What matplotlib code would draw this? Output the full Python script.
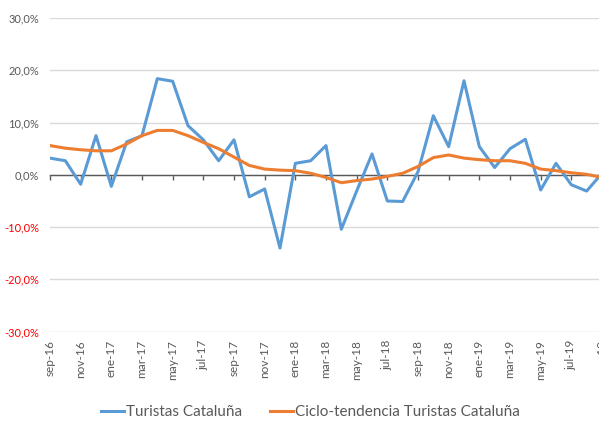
import matplotlib
matplotlib.use('Agg')
import matplotlib.pyplot as plt

plt.rcParams['font.family'] = ['Lato', 'DejaVu Sans']

# meses sep-16 .. sep-19
meses = ['sep-16', 'oct-16', 'nov-16', 'dic-16', 'ene-17', 'feb-17', 'mar-17', 'abr-17',
         'may-17', 'jun-17', 'jul-17', 'ago-17', 'sep-17', 'oct-17', 'nov-17', 'dic-17',
         'ene-18', 'feb-18', 'mar-18', 'abr-18', 'may-18', 'jun-18', 'jul-18', 'ago-18',
         'sep-18', 'oct-18', 'nov-18', 'dic-18', 'ene-19', 'feb-19', 'mar-19', 'abr-19',
         'may-19', 'jun-19', 'jul-19', 'ago-19', 'sep-19']

turistas = [3.2, 2.7, -1.8, 7.5, -2.2, 6.3, 7.5, 18.4, 17.9, 9.4, 6.7, 2.7, 6.7, -4.2,
            -2.7, -14.0, 2.2, 2.7, 5.6, -10.4, -3.1, 4.0, -5.0, -5.1, 0.6, 11.3, 5.4,
            18.0, 5.4, 1.4, 5.0, 6.8, -2.9, 2.2, -1.9, -3.1, 0.3]

tendencia = [5.6, 5.1, 4.8, 4.6, 4.6, 5.9, 7.5, 8.5, 8.5, 7.5, 6.2, 5.0, 3.4, 1.8,
             1.1, 0.9, 0.8, 0.3, -0.5, -1.5, -1.1, -0.8, -0.3, 0.3, 1.6, 3.3, 3.8,
             3.2, 2.9, 2.7, 2.7, 2.2, 1.1, 0.8, 0.4, 0.1, -0.5]

yticks = [-30, -20, -10, 0, 10, 20, 30]
ylabels = ['-30,0%', '-20,0%', '-10,0%', '0,0%', '10,0%', '20,0%', '30,0%']

gris = '#595959'

fig = plt.figure(figsize=(5.99, 4.24), dpi=100)
ax = fig.add_axes([50 / 599, 1 - 331.7 / 424, 552 / 599, (331.7 - 18) / 424])

x = list(range(len(meses)))
ax.plot(x, turistas, color='#5B9BD5', lw=2.2, label='Turistas Cataluña', zorder=3)
ax.plot(x, tendencia, color='#ED7D31', lw=2.2, label='Ciclo-tendencia Turistas Cataluña', zorder=4)

ax.set_xlim(0, len(meses) - 1)
ax.set_ylim(-30, 30)
ax.set_yticks(yticks)
ax.set_yticklabels(ylabels)
for lab, v in zip(ax.get_yticklabels(), yticks):
    lab.set_color('#FF0000' if v < 0 else gris)
ax.tick_params(axis='y', length=0, pad=8, labelsize=8)
ax.grid(axis='y', color='#D9D9D9', lw=1)
ax.set_axisbelow(True)

for s in ['top', 'right', 'left']:
    ax.spines[s].set_visible(False)

# eje horizontal en el 0 con marcas hacia abajo
ax.spines['bottom'].set_position(('data', 0))
ax.spines['bottom'].set_color(gris)
ax.spines['bottom'].set_linewidth(1)
ax.spines['bottom'].set_zorder(2.5)
ax.set_xticks(x[::2])
ax.tick_params(axis='x', length=3.5, width=1, color=gris, direction='out', labelbottom=False)

# etiquetas de meses abajo del todo
sec = ax.secondary_xaxis(0.0)
sec.set_xticks(x[::2])
sec.set_xticklabels(meses[::2], rotation=90, color=gris, fontsize=8.5)
sec.tick_params(axis='x', length=0, pad=6)
for s in sec.spines.values():
    s.set_visible(False)

fig.legend(loc='center', bbox_to_anchor=(0.518, 0.028), ncol=2, frameon=False,
           fontsize=11, labelcolor=gris, handlelength=1.5, handletextpad=0.15,
           columnspacing=1.8)

plt.savefig('out.png', dpi=100)
plt.close()
